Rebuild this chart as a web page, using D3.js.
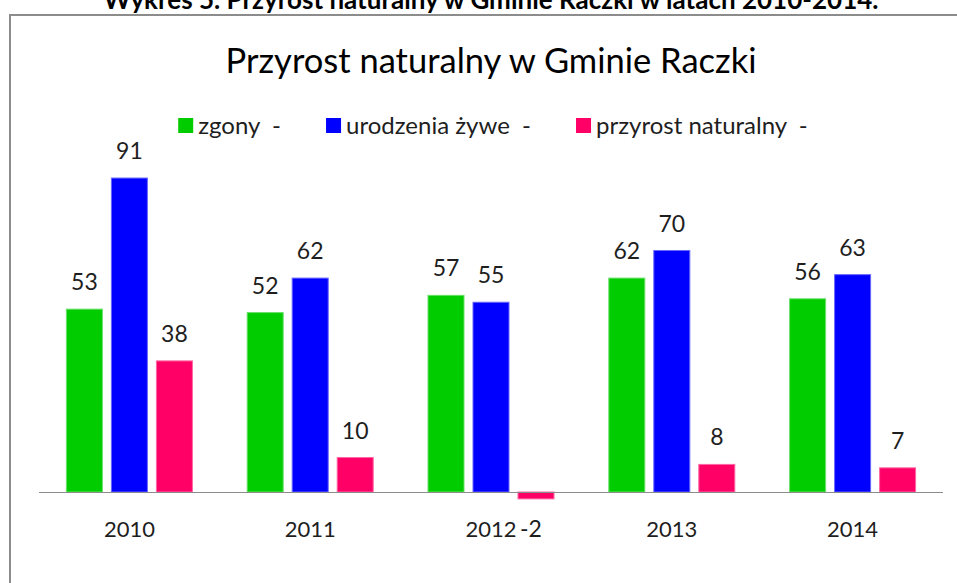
<!DOCTYPE html>
<html>
<head>
<meta charset="utf-8">
<script src="https://cdn.jsdelivr.net/npm/d3@7"></script>
<style>
  body { margin: 0; background: #fff; }
  svg { display: block; font-family: Lato, "Open Sans", sans-serif; }
</style>
</head>
<body>
<svg id="chart" width="957" height="583"></svg>
<script>
var years = ["2010", "2011", "2012", "2013", "2014"];
var seriesNames = ["zgony  -", "urodzenia żywe  -", "przyrost naturalny  -"];
var seriesColors = ["#00cc00", "#0000ff", "#ff0066"];
var seriesStrokes = ["#66e066", "#6666ff", "#ff66a3"];
var zgony = [53, 52, 57, 62, 56];
var urodzenia = [91, 62, 55, 70, 63];
var przyrost = [38, 10, -2, 8, 7];

var width = 957,
    height = 583,
    left = 39,
    right = 943,
    baseY = 492,
    textColor = "#1e1e1e";

var svg = d3.select("#chart");

var data = years.map(function(y, i) {
    return {year: y, values: [zgony[i], urodzenia[i], przyrost[i]]};
});

// outer frame (runs past the picture on the right and bottom)
svg.append("rect")
    .attr("x", 10)
    .attr("y", 15)
    .attr("width", 1000)
    .attr("height", 700)
    .attr("fill", "none")
    .attr("stroke", "#8c8c8c")
    .attr("stroke-width", 2);

// document caption, cut by the top edge like in the scan
svg.append("text")
    .attr("x", 491)
    .attr("y", 9)
    .attr("text-anchor", "middle")
    .style("font-size", "26px")
    .style("font-weight", "bold")
    .attr("fill", "#000")
    .text("Wykres 5. Przyrost naturalny w Gminie Raczki w latach 2010-2014.");

svg.append("text")
    .attr("x", 491)
    .attr("y", 73)
    .attr("text-anchor", "middle")
    .style("font-size", "34.5px")
    .attr("fill", "#000")
    .text("Przyrost naturalny w Gminie Raczki");

var x = d3.scaleBand()
    .domain(years)
    .range([left, right]);

var xInner = d3.scaleBand()
    .domain(d3.range(3))
    .range([-63, 63])
    .paddingInner(0.2);

var y = d3.scaleLinear()
    .domain([0, 100])
    .range([baseY, baseY - 345]);

var groups = svg.selectAll("g.year")
    .data(data)
    .enter()
    .append("g")
    .attr("class", "year")
    .attr("transform", function(d) { return "translate(" + (x(d.year) + x.bandwidth() / 2) + ",0)"; });

groups.selectAll("rect")
    .data(function(d) { return d.values; })
    .enter()
    .append("rect")
    .attr("x", function(d, i) { return xInner(i); })
    .attr("width", xInner.bandwidth())
    .attr("y", function(d) { return y(Math.max(0, d)); })
    .attr("height", function(d) { return Math.abs(y(d) - y(0)); })
    .attr("fill", function(d, i) { return seriesColors[i]; })
    .attr("stroke", function(d, i) { return seriesStrokes[i]; })
    .attr("stroke-width", 1);

groups.selectAll("text.value")
    .data(function(d) { return d.values; })
    .enter()
    .append("text")
    .attr("class", "value")
    .attr("x", function(d, i) { return xInner(i) + xInner.bandwidth() / 2 + (d < 0 ? -5 : 0); })
    .attr("y", function(d) { return d >= 0 ? y(d) - 19 : y(d) + 38; })
    .attr("text-anchor", "middle")
    .style("font-size", "23px")
    .attr("fill", textColor)
    .text(function(d) { return d; });

// category axis
svg.append("line")
    .attr("x1", left)
    .attr("x2", right)
    .attr("y1", baseY + 0.5)
    .attr("y2", baseY + 0.5)
    .attr("stroke", "#8c8c8c")
    .attr("stroke-width", 1);

svg.selectAll("text.cat")
    .data(years)
    .enter()
    .append("text")
    .attr("class", "cat")
    .attr("x", function(d) { return x(d) + x.bandwidth() / 2; })
    .attr("y", baseY + 45)
    .attr("text-anchor", "middle")
    .style("font-size", "22px")
    .attr("fill", textColor)
    .text(function(d) { return d; });

// legend, centred above the plot
var legend = svg.append("g");
var items = legend.selectAll("g")
    .data(seriesNames)
    .enter()
    .append("g");

items.append("rect")
    .attr("y", 118)
    .attr("width", 15)
    .attr("height", 15)
    .attr("fill", function(d, i) { return seriesColors[i]; });

items.append("text")
    .attr("x", 20)
    .attr("y", 134)
    .style("font-size", "24px")
    .attr("fill", textColor)
    .attr("xml:space", "preserve")
    .style("white-space", "pre")
    .text(function(d) { return d; });

var pos = 0;
items.each(function() {
    var g = d3.select(this);
    g.attr("transform", "translate(" + pos + ",0)");
    pos += 20 + g.select("text").node().getComputedTextLength() + 45;
});
pos -= 45;
legend.attr("transform", "translate(" + (493 - pos / 2) + ",0)");
</script>
</body>
</html>
